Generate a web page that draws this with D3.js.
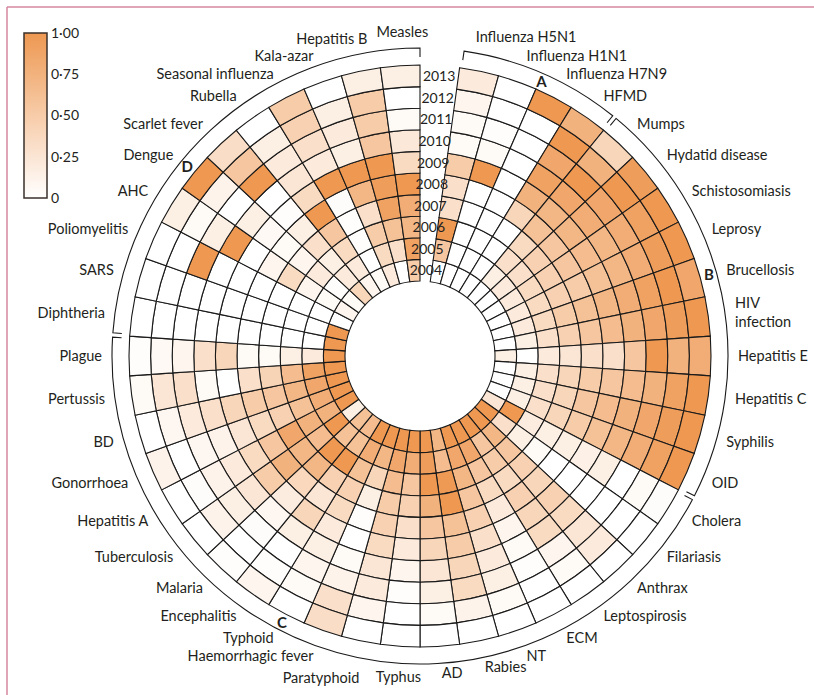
<!DOCTYPE html>
<html>
<head>
<meta charset="utf-8">
<script src="https://cdn.jsdelivr.net/npm/d3@7"></script>
<style>
  body { margin: 0; background: #fff; }
  svg text { font-family: Lato, "Noto Sans", sans-serif; fill: #231f20; }
</style>
</head>
<body>
<div id="wrapper"></div>
<script>
// years run from the inner ring (2004) to the outer ring (2013)
const years = [2004, 2005, 2006, 2007, 2008, 2009, 2010, 2011, 2012, 2013];

// group A
const diseasesA = ["Influenza H5N1", "Influenza H1N1", "Influenza H7N9", "HFMD"];
const valuesA = [
    [0, 0.55, 1, 0.3, 0.3, 0.5, 0.05, 0.05, 0.1, 0.2],
    [0, 0, 0, 0, 0, 1, 0.05, 0.02, 0, 0],
    [0, 0, 0, 0, 0, 0, 0, 0, 0, 1],
    [0, 0, 0, 0, 0.4, 0.75, 0.9, 0.85, 1, 0.75]
];
// group B
const diseasesB = ["Mumps", "Hydatid disease", "Schistosomiasis", "Leprosy", "Brucellosis",
    "HIV infection", "Hepatitis E", "Hepatitis C", "Syphilis", "OID"];
const valuesB = [
    [0, 0.15, 0.3, 0.35, 0.6, 0.7, 0.85, 1, 0.75, 0.4],
    [0, 0.2, 0.3, 0.45, 0.55, 0.7, 0.8, 0.85, 1, 0.95],
    [0, 0.2, 0.35, 0.45, 0.55, 0.65, 0.7, 0.8, 0.9, 1],
    [0, 0.2, 0.35, 0.45, 0.5, 0.6, 0.7, 0.8, 0.95, 1],
    [0, 0.2, 0.35, 0.5, 0.6, 0.7, 0.8, 0.9, 1, 0.85],
    [0, 0.15, 0.3, 0.45, 0.55, 0.65, 0.75, 0.85, 0.95, 1],
    [0.15, 0, 0.2, 0.25, 0.3, 0.3, 0.55, 1, 0.75, 0.8],
    [0, 0.15, 0.3, 0.4, 0.5, 0.55, 0.65, 0.75, 0.9, 1],
    [0, 0.15, 0.3, 0.4, 0.55, 0.65, 0.75, 0.85, 0.95, 1],
    [0, 0.15, 0.3, 0.4, 0.5, 0.6, 0.7, 0.8, 0.9, 1]
];
// group C
const diseasesC = ["Cholera", "Filariasis", "Anthrax", "Leptospirosis", "ECM", "NT", "Rabies",
    "AD", "Typhus", "Paratyphoid", "Haemorrhagic fever", "Typhoid", "Encephalitis", "Malaria",
    "Tuberculosis", "Hepatitis A", "Gonorrhoea", "BD", "Pertussis", "Plague"];
const valuesC = [
    [0.25, 1, 0.18, 0.16, 0.15, 0.14, 0.16, 0, 0.05, 0.03],
    [1, 0.3, 0.15, 0.05, 0, 0, 0, 0, 0, 0],
    [1, 0.7, 0.55, 0.45, 0.4, 0.45, 0.35, 0.25, 0.2, 0],
    [1, 0.55, 0.5, 0.35, 0.45, 0.4, 0.35, 0.1, 0.05, 0],
    [1, 0.85, 0.55, 0.35, 0.2, 0.1, 0.05, 0.02, 0, 0],
    [1, 0.85, 0.7, 0.55, 0.45, 0.3, 0.2, 0.15, 0.05, 0],
    [0.7, 0.65, 0.98, 1, 0.6, 0.5, 0.4, 0.35, 0.12, 0],
    [1, 0.95, 1, 0.75, 0.55, 0.4, 0.25, 0.15, 0.05, 0],
    [1, 0.8, 0.55, 0.45, 0.3, 0.2, 0.1, 0.02, 0, 0],
    [1, 0.85, 0.65, 0.5, 0.45, 0.35, 0.25, 0.2, 0.1, 0],
    [1, 0.7, 0.4, 0.15, 0.02, 0, 0.05, 0.12, 0.3, 0.33],
    [1, 0.8, 0.6, 0.45, 0.35, 0.2, 0.15, 0.1, 0.05, 0],
    [0.65, 0.6, 1, 0.45, 0.25, 0.4, 0.15, 0, 0.02, 0.1],
    [0.6, 0.6, 1, 0.7, 0.38, 0.18, 0.08, 0.03, 0, 0.02],
    [0.15, 1, 0.65, 0.7, 0.75, 0.5, 0.25, 0.15, 0.12, 0],
    [1, 0.75, 0.75, 0.85, 0.55, 0.35, 0.2, 0.12, 0.03, 0],
    [1, 0.8, 0.6, 0.45, 0.35, 0.25, 0.12, 0.08, 0, 0.12],
    [1, 0.85, 0.7, 0.55, 0.5, 0.4, 0.3, 0.2, 0.08, 0],
    [1, 0.9, 0.65, 0.42, 0.3, 0, 0.05, 0.3, 0.25, 0.05],
    [1, 0.2, 0.15, 0.05, 0.05, 0.4, 0.3, 0.1, 0.06, 0.02]
];
// group D
const diseasesD = ["Diphtheria", "SARS", "Poliomyelitis", "AHC", "Dengue", "Scarlet fever",
    "Rubella", "Seasonal influenza", "Kala-azar", "Hepatitis B", "Measles"];
const valuesD = [
    [1, 0, 0, 0, 0, 0, 0, 0, 0, 0],
    [1, 0, 0, 0, 0, 0, 0, 0, 0, 0],
    [0, 0, 0, 0, 0, 0, 0, 1, 0, 0],
    [0.1, 0.05, 0.1, 0.35, 0.1, 0, 1, 0.15, 0.05, 0.15],
    [0.05, 0.02, 0.2, 0.1, 0.05, 0.06, 0.15, 0, 0.12, 1],
    [0.4, 0.2, 0.15, 0.3, 0.15, 0.02, 0, 1, 0.55, 0.33],
    [0.1, 0.2, 0.35, 0.55, 1, 0.35, 0.25, 0.2, 0.15, 0],
    [0.05, 0, 0.02, 0.01, 0.03, 1, 0.2, 0.3, 0.45, 0.5],
    [0.2, 0.35, 0.5, 0.3, 0.7, 1, 0.15, 0.2, 0.15, 0],
    [0, 0.3, 0.6, 0.9, 0.95, 1, 0.55, 0.5, 0.5, 0.15],
    [0.5, 0.9, 0.7, 0.8, 1, 0.35, 0.22, 0.05, 0, 0.15]
];
// where each group letter sits, in disease slots from the start of its group
const letterSlot = [2.05, 4.5, 11.5, 4.5];
const legendTicks = [0, 0.25, 0.5, 0.75, 1];

const groups = [
    {letter: "A", names: diseasesA, values: valuesA},
    {letter: "B", names: diseasesB, values: valuesB},
    {letter: "C", names: diseasesC, values: valuesC},
    {letter: "D", names: diseasesD, values: valuesD}
];

// label tweaks where the original moved a name to avoid crowding
const labelNudge = {
    "Influenza H5N1": [-9, -8, null],
    "Hepatitis B": [12, -6, null],
    "Measles": [4, -7, "middle"],
    "Typhus": [0, 4, "middle"],
    "Paratyphoid": [4, 11, null]
};

const width = 814, height = 695;
const cx = 420, cy = 356;
const innerR = 75, outerR = 291;
const bracketR = 308, labelR = 318;

const svg = d3.select("#wrapper").append("svg")
    .attr("width", width)
    .attr("height", height);

// page frame
svg.append("line").attr("x1", 7).attr("x2", 7).attr("y1", 7).attr("y2", height)
    .attr("stroke", "#d6879f").attr("stroke-width", 1.5);
svg.append("line").attr("x1", 7).attr("x2", width).attr("y1", 7).attr("y2", 7)
    .attr("stroke", "#d6879f").attr("stroke-width", 1.5);

// flatten the groups into slots, slot 0 is left empty for the year labels
let cells = [];
let slots = [];
let slot = 1;
groups.forEach(grp => {
    grp.start = slot;
    grp.names.forEach((name, i) => {
        slots.push({name: name, slot: slot});
        grp.values[i].forEach((v, j) => cells.push({name: name, slot: slot, year: years[j], v: v}));
        slot++;
    });
    grp.end = slot;
});
const nSlots = slot;

const angle = d3.scaleLinear().domain([0, nSlots]).range([0, 2 * Math.PI]);
const radius = d3.scaleBand().domain(years).range([innerR, outerR]);
const color = d3.scaleLinear().domain([0, 1]).range(["#ffffff", "#ee9852"]);

const bounds = svg.append("g").attr("transform", `translate(${cx},${cy})`);

const arc = d3.arc()
    .innerRadius(d => radius(d.year))
    .outerRadius(d => radius(d.year) + radius.bandwidth())
    .startAngle(d => angle(d.slot))
    .endAngle(d => angle(d.slot + 1));

bounds.append("g").selectAll("path")
    .data(cells)
    .join("path")
    .attr("d", arc)
    .attr("fill", d => color(d.v))
    .attr("stroke", "#1a1a1a")
    .attr("stroke-width", 1.1);

// year labels in the empty slot
const yearAngle = angle(0.5);
bounds.append("g").selectAll("text")
    .data(years)
    .join("text")
    .attr("x", d => (radius(d) + radius.bandwidth() / 2) * Math.sin(yearAngle))
    .attr("y", d => -(radius(d) + radius.bandwidth() / 2) * Math.cos(yearAngle))
    .attr("dy", "0.35em")
    .attr("text-anchor", "middle")
    .attr("font-size", "14px")
    .text(d => d);

// group brackets
const padA = 0.4 * Math.PI / 180;
const tick = 9;
bounds.append("g").selectAll("path")
    .data(groups)
    .join("path")
    .attr("d", d => {
        const a0 = angle(d.start) + padA;
        const a1 = angle(d.end) - (d.end === nSlots ? 0 : padA);
        const p = d3.path();
        p.moveTo((bracketR - tick) * Math.sin(a0), -(bracketR - tick) * Math.cos(a0));
        p.lineTo(bracketR * Math.sin(a0), -bracketR * Math.cos(a0));
        p.arc(0, 0, bracketR, a0 - Math.PI / 2, a1 - Math.PI / 2, false);
        p.lineTo((bracketR - tick) * Math.sin(a1), -(bracketR - tick) * Math.cos(a1));
        return p.toString();
    })
    .attr("fill", "none")
    .attr("stroke", "#1a1a1a")
    .attr("stroke-width", 1.1);

bounds.append("g").selectAll("text")
    .data(groups)
    .join("text")
    .attr("x", (d, i) => 300 * Math.sin(angle(d.start + letterSlot[i])))
    .attr("y", (d, i) => -300 * Math.cos(angle(d.start + letterSlot[i])))
    .attr("dy", "0.35em")
    .attr("text-anchor", "middle")
    .attr("font-size", "15px")
    .attr("font-weight", "bold")
    .text(d => d.letter);

// disease names
const labels = bounds.append("g").selectAll("text")
    .data(slots)
    .join("text")
    .attr("x", d => labelR * Math.sin(angle(d.slot + 0.5)) + (labelNudge[d.name] ? labelNudge[d.name][0] : 0))
    .attr("y", d => -labelR * Math.cos(angle(d.slot + 0.5)) + (labelNudge[d.name] ? labelNudge[d.name][1] : 0))
    .attr("dy", "0.35em")
    .attr("font-size", "14.5px")
    .attr("text-anchor", d => {
        if (labelNudge[d.name] && labelNudge[d.name][2]) return labelNudge[d.name][2];
        return angle(d.slot + 0.5) < Math.PI ? "start" : "end";
    });

labels.each(function(d) {
    const t = d3.select(this);
    const parts = d.name === "HIV infection" ? ["HIV", "infection"] : [d.name];
    if (parts.length === 1) {
        t.text(d.name);
    } else {
        parts.forEach((s, k) => {
            t.append("tspan")
                .attr("x", t.attr("x"))
                .attr("dy", k === 0 ? "-0.3em" : "1.3em")
                .text(s);
        });
    }
});

// colour legend
const legend = svg.append("g");
const legendScale = d3.scaleLinear().domain([0, 1]).range([198, 33]);
const grad = svg.append("defs").append("linearGradient")
    .attr("id", "legendGrad")
    .attr("x1", 0).attr("x2", 0).attr("y1", 1).attr("y2", 0);
grad.selectAll("stop")
    .data(legendTicks)
    .join("stop")
    .attr("offset", d => d)
    .attr("stop-color", d => color(d));

legend.append("rect")
    .attr("x", 24)
    .attr("y", legendScale(1))
    .attr("width", 23)
    .attr("height", legendScale(0) - legendScale(1))
    .attr("fill", "url(#legendGrad)")
    .attr("stroke", "#3a2f2a")
    .attr("stroke-width", 1.5);

const legendAxis = d3.axisRight(legendScale)
    .tickValues(legendTicks)
    .tickSize(0)
    .tickPadding(4)
    .tickFormat(d => d === 0 ? "0" : d3.format(".2f")(d).replace(".", "·"));

legend.append("g")
    .attr("transform", "translate(47,0)")
    .call(legendAxis)
    .call(g => g.select(".domain").remove())
    .selectAll("text")
    .attr("font-size", "14px")
    .attr("font-family", "Lato, 'Noto Sans', sans-serif")
    .attr("fill", "#231f20");
</script>
</body>
</html>
